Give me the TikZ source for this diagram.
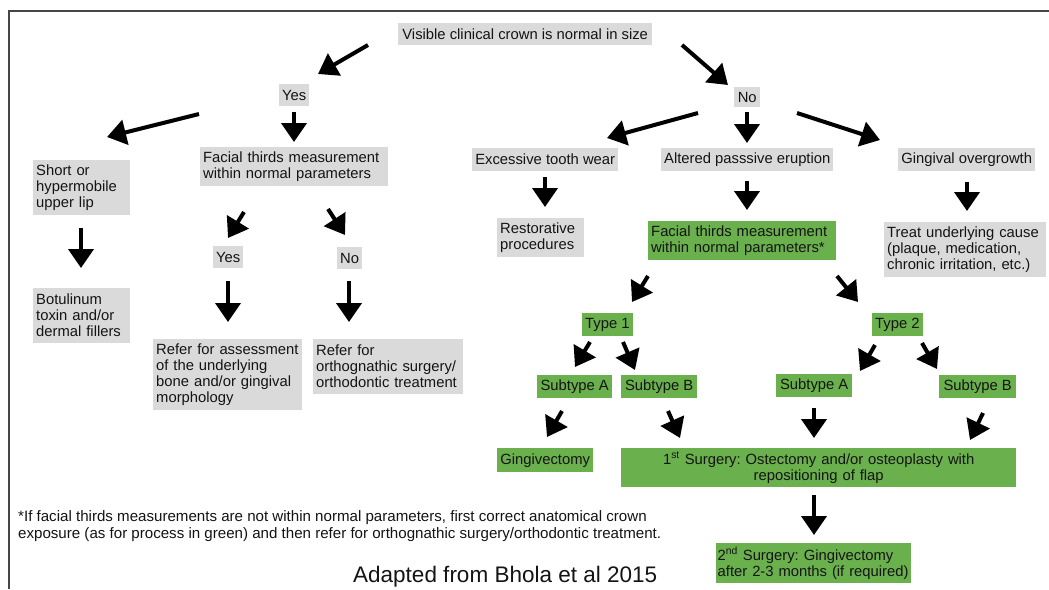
\documentclass[tikz,border=0pt]{standalone}
\usepackage{fontspec}
\setmainfont{Liberation Sans}
\usetikzlibrary{arrows.meta}
\definecolor{boxgray}{RGB}{218,218,218}
\definecolor{boxgreen}{RGB}{106,176,76}
\definecolor{framegray}{RGB}{70,70,70}
\definecolor{txt}{RGB}{20,20,20}
\frenchspacing
\begin{document}
\begin{tikzpicture}[x=1pt,y=-1pt,
  cbox/.style={anchor=north west, inner sep=3pt, text=txt, font=\fontsize{14.8}{16}\selectfont},
  gbox/.style={cbox, fill=boxgray},
  grbox/.style={cbox, fill=boxgreen},
  arr/.style={line width=4pt, black, -{Triangle[length=19pt,width=25pt]}}]
\useasboundingbox (0,0) rectangle (1049,589);
\fill[white] (0,0) rectangle (1049,589);
\draw[framegray, line width=1.5pt] (9,589) -- (9,11) -- (1049,11);

% ---- boxes ----
\node[gbox, minimum width=254pt, minimum height=22pt] (top) at (398,23) {Visible clinical crown is normal in size};
\node[gbox, minimum width=30pt, minimum height=22pt] (yes1) at (279,84) {Yes};
\node[gbox, minimum width=26pt, minimum height=20pt] (no1) at (734,87) {No};
\node[gbox, text width=91pt, minimum height=55pt, align=left] (short) at (33,160) {Short or\\hypermobile\\upper lip};
\node[gbox, text width=182pt, minimum height=39pt, align=left] (fac) at (200,147) {Facial thirds measurement\\within normal parameters};
\node[gbox, text width=91pt, minimum height=55pt, align=left] (botu) at (33,288) {Botulinum\\toxin and/or\\dermal fillers};
\node[gbox, minimum width=29pt, minimum height=22pt] (yes2) at (213,246) {Yes};
\node[gbox, minimum width=25pt, minimum height=22pt] (no2) at (337,247) {No};
\node[gbox, text width=143pt, minimum height=71pt, align=left] (refa) at (153,339) {Refer for assessment\\of the underlying\\bone and/or gingival\\morphology};
\node[gbox, text width=144pt, minimum height=55pt, align=left] (refo) at (313,339) {Refer for\\orthognathic surgery/\\orthodontic treatment};

\node[gbox, minimum width=146pt, minimum height=23pt] (exc) at (472,148) {Excessive tooth wear};
\node[gbox, minimum width=172pt, minimum height=23pt] (alt) at (661,148) {Altered passsive eruption};
\node[gbox, minimum width=137pt, minimum height=23pt] (gin) at (898,148) {Gingival overgrowth};
\node[gbox, text width=81pt, minimum height=39pt, align=left] (rest) at (497,218) {Restorative\\procedures};
\node[grbox, text width=182pt, minimum height=39pt, align=left] (facg) at (648,221) {Facial thirds measurement\\within normal parameters*};
\node[gbox, text width=156pt, minimum height=55pt, align=left] (treat) at (884,222) {Treat underlying cause\\(plaque, medication,\\chronic irritation, etc.)};

\node[grbox, minimum width=50pt, minimum height=23pt] (t1) at (582,313) {Type 1};
\node[grbox, minimum width=50pt, minimum height=23pt] (t2) at (872,313) {Type 2};
\node[grbox, minimum width=75pt, minimum height=23pt] (sa1) at (537,375) {Subtype A};
\node[grbox, minimum width=76pt, minimum height=23pt] (sb1) at (621,375) {Subtype B};
\node[grbox, minimum width=76pt, minimum height=23pt] (sa2) at (776,374) {Subtype A};
\node[grbox, minimum width=77pt, minimum height=23pt] (sb2) at (939,375) {Subtype B};
\node[grbox, minimum width=96pt, minimum height=24pt] (gvec) at (497,448) {Gingivectomy};
\node[grbox, text width=389pt, minimum height=39pt, align=center] (surg1) at (621,448) {1\textsuperscript{st} Surgery: Ostectomy and/or osteoplasty with\\repositioning of flap};
\node[grbox, inner xsep=1.5pt, text width=192pt, minimum height=40pt, align=left] (surg2) at (716,543) {2\textsuperscript{nd} Surgery: Gingivectomy\\after 2-3 months (if required)};

% ---- footnote and source ----
\node[anchor=west, inner sep=0pt, align=left, text=txt, font=\fontsize{15.1}{17}\selectfont] (foot) at (18,526.5) {*If facial thirds measurements are not within normal parameters, first correct anatomical crown\\exposure (as for process in green) and then refer for orthognathic surgery/orthodontic treatment.};
\node[anchor=west, inner sep=0pt, text=txt, font=\fontsize{22.5}{27}\selectfont] (src) at (353,577) {Adapted from Bhola et al 2015};

% ---- arrow end points ----
\coordinate (a1s) at (368,45);  \coordinate (a1e) at (318,74);
\coordinate (a2s) at (682,45);  \coordinate (a2e) at (728,85);
\coordinate (a3s) at (199,114); \coordinate (a3e) at (107,137);
\coordinate (a4s) at (294,112); \coordinate (a4e) at (294,142);
\coordinate (a5s) at (81,228);  \coordinate (a5e) at (81,268);
\coordinate (a6s) at (244,212); \coordinate (a6e) at (228,238);
\coordinate (a7s) at (328,209); \coordinate (a7e) at (345,235);
\coordinate (a8s) at (228,281); \coordinate (a8e) at (228,322);
\coordinate (a9s) at (349,281); \coordinate (a9e) at (349,322);
\coordinate (b1s) at (698,113); \coordinate (b1e) at (607,138);
\coordinate (b2s) at (747,112); \coordinate (b2e) at (747,143);
\coordinate (b3s) at (797,113); \coordinate (b3e) at (880,140);
\coordinate (b4s) at (545,177); \coordinate (b4e) at (545,207);
\coordinate (b5s) at (747,181); \coordinate (b5e) at (747,210);
\coordinate (b6s) at (967,182); \coordinate (b6e) at (967,211);
\coordinate (c1s) at (648,276); \coordinate (c1e) at (632,302);
\coordinate (c2s) at (837,276); \coordinate (c2e) at (858,302);
\coordinate (c3s) at (590,342); \coordinate (c3e) at (575,367);
\coordinate (c4s) at (623,342); \coordinate (c4e) at (635,370);
\coordinate (c5s) at (875,345); \coordinate (c5e) at (860,371);
\coordinate (c6s) at (922,343); \coordinate (c6e) at (937,369);
\coordinate (d1s) at (562,411); \coordinate (d1e) at (547,437);
\coordinate (d2s) at (668,411); \coordinate (d2e) at (680,438);
\coordinate (d3s) at (814,408); \coordinate (d3e) at (814,438);
\coordinate (d4s) at (983,413); \coordinate (d4e) at (970,440);
\coordinate (d5s) at (814,495); \coordinate (d5e) at (814,535);

\foreach \p in {a1,a2,a3,a4,a5,a6,a7,a8,a9,b1,b2,b3,b4,b5,b6,c1,c2,c3,c4,c5,c6,d1,d2,d3,d4,d5}
  \draw[arr] (\p s) -- (\p e);
\end{tikzpicture}
\end{document}
